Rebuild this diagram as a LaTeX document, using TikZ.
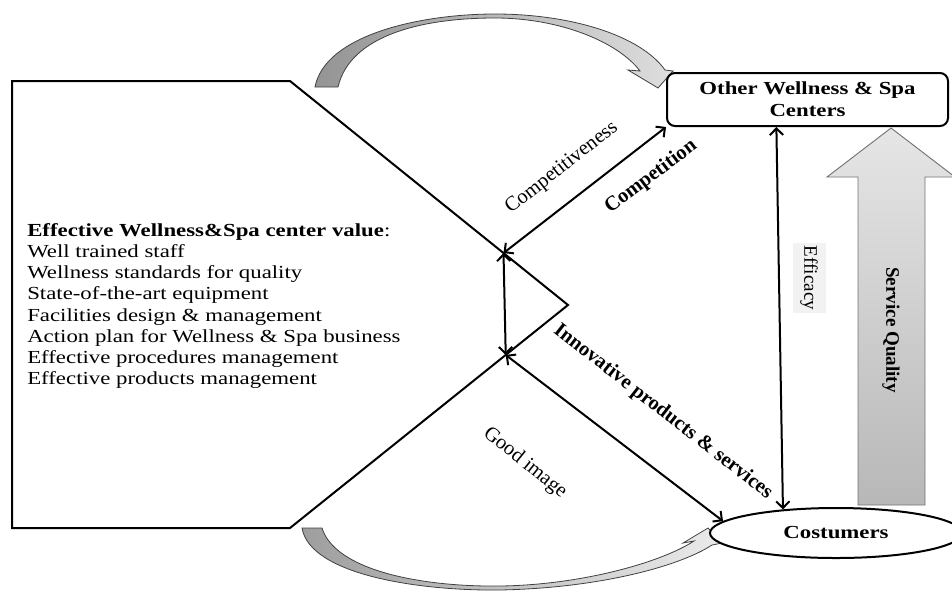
\documentclass[tikz,border=0pt]{standalone}
\usepackage{fontspec}
\setmainfont{Liberation Serif}[FakeStretch=1.24]
\newfontfamily\rotfont{Liberation Serif}
\usetikzlibrary{shapes.geometric,arrows.meta,calc}
\begin{document}
\begin{tikzpicture}[x=0.75pt,y=-0.75pt,
  font=\fontsize{13.8}{15.9}\selectfont,
  >={Straight Barb[length=5pt,width=10pt]},
  conn/.style={line width=1.5pt,<->},
  outline/.style={line width=1.5pt,line join=miter},
  curvarrow/.style={draw=black!75,line width=0.6pt},
  boxnode/.style={draw,line width=1.5pt,rounded corners=6pt,fill=white,
    minimum width=210.75pt,minimum height=39.75pt,inner sep=0pt,align=center,font=\fontsize{13.8}{16.3}\selectfont\bfseries},
  ellnode/.style={draw,ellipse,line width=1.5pt,fill=white,minimum width=189pt,minimum height=37.5pt,inner sep=0pt,font=\fontsize{13.8}{16}\selectfont\bfseries},
  rotlabel/.style={inner sep=0pt,font=\fontsize{15.4}{17}\rotfont},
  vlabel/.style={inner sep=1pt,font=\fontsize{14.3}{16}\rotfont,rotate=-90}]
\useasboundingbox (0,0) rectangle (952,590);
\clip (0,0) rectangle (952,590);

% curved block arrows
\path[curvarrow,left color=black!42,right color=black!13]
  (315,87) .. controls (325,35) and (420,14) .. (495,14)
  .. controls (570,14) and (640,35) .. (665,70)
  -- (673,71) -- (658,88) -- (628,70) -- (640,71)
  .. controls (618,42) and (560,18) .. (495,18)
  .. controls (420,18) and (350,36) .. (338,87) -- cycle;
\path[curvarrow,left color=black!38,right color=black!8]
  (302,528) .. controls (310,575) and (420,591) .. (500,590)
  .. controls (600,588) and (680,566) .. (712,545)
  -- (722,543) -- (708,528) -- (683,543) -- (694,541)
  .. controls (660,563) and (580,585) .. (500,586)
  .. controls (420,587) and (335,570) .. (322,528) -- cycle;

% service quality block arrow
\path[draw=black!55,line width=0.7pt,top color=black!10,bottom color=black!28]
  (858,505) -- (858,177) -- (827,177) -- (891,128) -- (955,177)
  -- (925,177) -- (925,505) -- cycle;
\node[vlabel,font=\fontsize{14.3}{16}\rotfont\bfseries] (sq) at (891,330) {Service Quality};

% left value shape
\coordinate (tl) at (12,81);
\coordinate (tr) at (290,81);
\coordinate (tip) at (568,305);
\coordinate (br) at (290,528);
\coordinate (bl) at (12,528);
\draw[outline] (tl) -- (tr) -- (tip) -- (br) -- (bl) -- cycle;
\coordinate (ua) at ($(tr)!0.768!(tip)$);
\coordinate (la) at ($(tip)!0.224!(br)$);

\node[anchor=west,align=left,inner sep=0pt] (value) at (27,306)
 {\textbf{Effective Wellness\&Spa center value}:\\
  Well trained staff\\
  Wellness standards for quality\\
  State-of-the-art equipment\\
  Facilities design \& management\\
  Action plan for Wellness \& Spa business\\
  Effective procedures management\\
  Effective products management};

% boxes
\node[boxnode] (other) at (807.5,99.5) {Other Wellness \& Spa\\Centers};
\node[ellnode] (cust) at (836,533) {Costumers};

% connectors
\draw[conn] (ua) -- (other.south west);
\draw[conn] (ua) -- (la);
\draw[conn] (la) -- (cust.174);
\node[vlabel,fill=black!5,minimum width=70*0.75pt,minimum height=33*0.75pt] (eff) at (809,278) {Efficacy};
\draw[conn] ($(other.south west)!0.39!(other.south east)$) -- (cust.156);

% labels
\node[rotlabel,rotate=38] (ltv) at (562,168) {Competitiveness};
\node[rotlabel,rotate=37,font=\fontsize{15.4}{17}\rotfont\bfseries] (lcp) at (651,177) {Competition};
\node[rotlabel,rotate=-38,font=\fontsize{15.4}{17}\rotfont\bfseries] (lin) at (663,412) {Innovative products \& services};
\node[rotlabel,rotate=-39] (lgi) at (525,463) {Good image};
\end{tikzpicture}
\end{document}
